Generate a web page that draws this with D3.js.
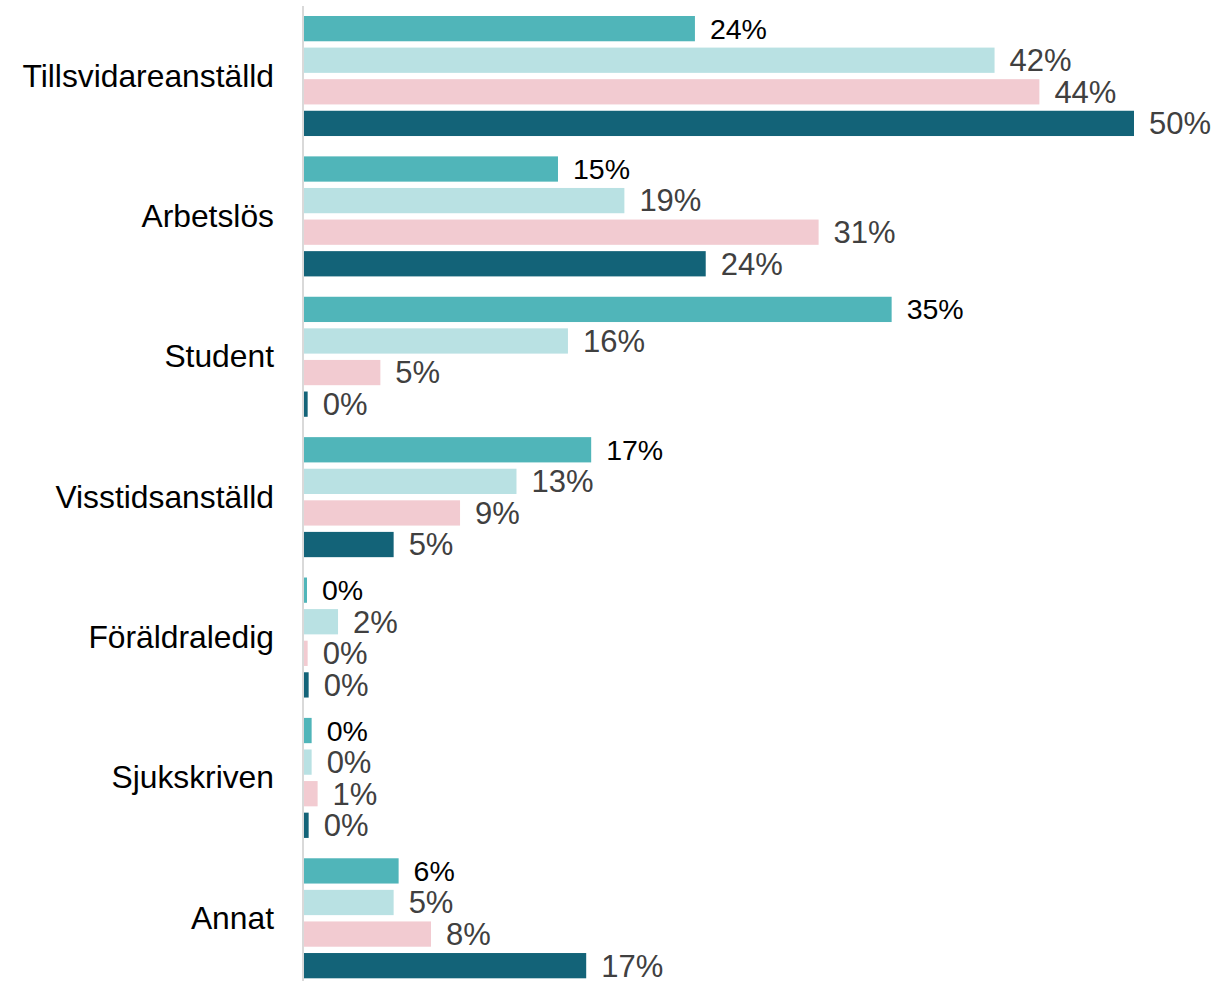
<!DOCTYPE html>
<html>
<head>
<meta charset="utf-8">
<script src="https://cdn.jsdelivr.net/npm/d3@7"></script>
<style>
  html, body { margin: 0; padding: 0; background: #fff; }
  text { font-family: "Liberation Sans", Arial, sans-serif; }
</style>
</head>
<body>
<div id="chart"></div>
<script>
// categories (top to bottom)
const categories = ["Tillsvidareanställd", "Arbetslös", "Student", "Visstidsanställd", "Föräldraledig", "Sjukskriven", "Annat"];

// four groups per category, share in percent
const series = ["Grupp 1", "Grupp 2", "Grupp 3", "Grupp 4"];
const grupp1 = [23.55, 15.3, 35.4, 17.3, 0.18, 0.46, 5.7];
const grupp2 = [41.6, 19.3, 15.9, 12.8, 2.05, 0.46, 5.4];
const grupp3 = [44.3, 31.0, 4.6, 9.4, 0.22, 0.82, 7.65];
const grupp4 = [50.0, 24.2, 0.22, 5.4, 0.28, 0.28, 17.0];
const values = [grupp1, grupp2, grupp3, grupp4];

const colors = ["#50b5b9", "#b9e1e3", "#f2cbd1", "#136378"];

const width = 1228;
const height = 981;

const svg = d3.select("#chart").append("svg")
  .attr("width", width)
  .attr("height", height);

const x = d3.scaleLinear()
  .domain([0, 50])
  .range([304, 1134]);

const y0 = d3.scaleBand()
  .domain(categories)
  .range([16, 978.3])
  .paddingInner(0.145)
  .paddingOuter(0);

const y1 = d3.scaleBand()
  .domain(series)
  .range([0, y0.bandwidth()])
  .paddingInner(0.2);

const rows = [];
categories.forEach((c, i) => {
  series.forEach((s, j) => {
    rows.push({ cat: c, ser: s, j: j, v: values[j][i] });
  });
});

// bars
svg.append("g")
  .selectAll("rect")
  .data(rows)
  .join("rect")
    .attr("x", x(0))
    .attr("y", d => y0(d.cat) + y1(d.ser))
    .attr("width", d => x(d.v) - x(0))
    .attr("height", y1.bandwidth())
    .attr("fill", d => colors[d.j]);

// value labels
svg.append("g")
  .selectAll("text")
  .data(rows)
  .join("text")
    .attr("x", d => x(d.v) + 15)
    .attr("y", d => y0(d.cat) + y1(d.ser) + y1.bandwidth() / 2)
    .attr("dy", "0.35em")
    .attr("fill", d => d.j === 0 ? "#000" : "#404040")
    .style("font-size", d => d.j === 0 ? "28.5px" : "31px")
    .text(d => d3.format(".0f")(d.v) + "%");

// category axis line
svg.append("line")
  .attr("x1", 303).attr("x2", 303)
  .attr("y1", 6).attr("y2", height)
  .attr("stroke", "#d9d9d9")
  .attr("stroke-width", 2);

// category labels
svg.append("g")
  .selectAll("text")
  .data(categories)
  .join("text")
    .attr("x", 274)
    .attr("y", d => y0(d) + y0.bandwidth() / 2)
    .attr("dy", "0.33em")
    .attr("text-anchor", "end")
    .attr("fill", "#000")
    .style("font-size", "31.8px")
    .text(d => d);
</script>
</body>
</html>
